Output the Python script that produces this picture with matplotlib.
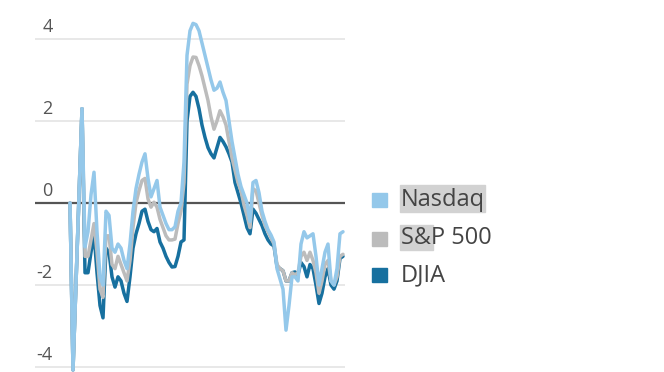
import matplotlib.pyplot as plt
import numpy as np
from matplotlib.patches import Rectangle
from matplotlib.transforms import blended_transform_factory

plt.rcParams["font.family"] = ["Open Sans", "DejaVu Sans"]

# ---------------------------------------------------------------------------
# Data (percent change)
# ---------------------------------------------------------------------------
nasdaq = [
    0.0, -4.07, -1.95, 0.18, 2.3, -1.07, -0.7, 0.2, 0.75, -0.7,
    -1.8, -2.0, -0.2, -0.3, -1.1, -1.2, -1.0, -1.1, -1.4, -1.6,
    -1.0, -0.2, 0.35, 0.7, 1.0, 1.2, 0.6, 0.15, 0.35, 0.55,
    -0.1, -0.3, -0.5, -0.65, -0.65, -0.58, -0.2, 0.0, 1.0, 3.6,
    4.2, 4.38, 4.35, 4.2, 3.9, 3.6, 3.3, 3.0, 2.75, 2.8,
    2.95, 2.7, 2.5, 2.0, 1.5, 1.1, 0.7, 0.4, 0.2, 0.0,
    -0.45, 0.5, 0.55, 0.25, -0.2, -0.45, -0.65, -0.78, -0.95, -1.6,
    -1.85, -2.1, -3.1, -2.5, -1.8, -1.8, -1.9, -1.0, -0.7, -0.85,
    -0.8, -0.75, -1.3, -2.0, -1.6, -1.2, -1.0, -1.9, -2.0, -1.6,
    -0.75, -0.7,
]
sp500 = [
    0.0, -4.07, -1.95, 0.18, 2.3, -1.3, -1.3, -0.9, -0.5, -1.2,
    -2.1, -2.3, -0.8, -0.8, -1.5, -1.6, -1.3, -1.5, -1.7, -1.9,
    -1.4, -0.6, 0.0, 0.3, 0.55, 0.6, 0.1, -0.1, 0.02, -0.1,
    -0.4, -0.6, -0.8, -0.9, -0.9, -0.88, -0.5, -0.2, 0.5, 2.9,
    3.35, 3.56, 3.55, 3.35, 3.1, 2.8, 2.5, 2.1, 1.8, 2.0,
    2.25, 2.1, 1.9, 1.5, 1.1, 0.8, 0.5, 0.3, -0.05, -0.3,
    -0.6, 0.35, 0.3, 0.0, -0.3, -0.55, -0.7, -0.85, -1.0, -1.5,
    -1.6, -1.65, -1.9, -1.9, -1.7, -1.75, -1.7, -1.3, -1.2, -1.4,
    -1.2, -1.4, -1.7, -2.2, -1.9, -1.5, -1.4, -1.9, -2.0, -1.8,
    -1.3, -1.25,
]
djia = [
    0.0, -4.07, -1.95, 0.18, 2.3, -1.7, -1.7, -1.2, -0.75, -1.7,
    -2.5, -2.8, -1.1, -1.2, -1.8, -2.05, -1.8, -1.9, -2.2, -2.4,
    -1.8, -1.1, -0.75, -0.5, -0.2, -0.15, -0.45, -0.65, -0.7, -0.62,
    -0.95, -1.1, -1.3, -1.45, -1.56, -1.55, -1.3, -0.95, -0.9, 2.0,
    2.6, 2.7, 2.6, 2.3, 1.9, 1.6, 1.35, 1.2, 1.1, 1.35,
    1.6, 1.5, 1.37, 1.2, 1.0, 0.5, 0.25, 0.0, -0.3, -0.6,
    -0.75, -0.15, -0.25, -0.4, -0.55, -0.75, -0.9, -1.0, -1.05, -1.55,
    -1.6, -1.65, -1.9, -1.9, -1.7, -1.68, -1.75, -1.45, -1.55, -1.8,
    -1.5, -1.6, -2.0, -2.45, -2.2, -1.8, -1.6, -2.0, -2.1, -1.9,
    -1.35, -1.3,
]
days = np.arange(len(nasdaq))

y_ticks = [4, 2, 0, -2, -4]
y_tick_labels = ["4", "2", "0", "-2", "-4"]

series_names = ["Nasdaq", "S&P 500", "DJIA"]
series_colors = ["#94c8ea", "#bcbcbc", "#17709f"]

# ---------------------------------------------------------------------------
# Figure
# ---------------------------------------------------------------------------
W, H = 664, 372
fig = plt.figure(figsize=(W / 100, H / 100), dpi=100)
ax = fig.add_axes([35 / W, 0, 310 / W, 1])
ax.set_xlim(-11.67, 91.67)
ax.set_ylim(-4.12, 4.95)
ax.axis("off")

for t in y_ticks:
    if t == 0:
        ax.axhline(t, color="#555555", lw=1.6, zorder=1)
    else:
        ax.axhline(t, color="#e8e8e8", lw=1.4, zorder=1)

trans = blended_transform_factory(ax.transAxes, ax.transData)
for t, lab in zip(y_ticks, y_tick_labels):
    ax.annotate(lab, xy=(0.057, t), xycoords=trans, xytext=(0, 8.6),
                textcoords="offset points", ha="right", va="center",
                fontsize=13, color="#555555")

# draw DJIA first, Nasdaq on top
for vals, col in zip([djia, sp500, nasdaq], series_colors[::-1]):
    ax.plot(days, vals, color=col, lw=2.5, solid_joinstyle="round",
            solid_capstyle="round", zorder=3, clip_on=True)

# ---------------------------------------------------------------------------
# Legend (drawn by hand so it sits like the reference)
# ---------------------------------------------------------------------------
def fx(px):
    return px / W


def fy(py):
    return 1 - py / H


# grey selection highlights seen behind the legend labels
fig.patches.append(Rectangle((fx(400), fy(212)), 85 / W, 27 / H,
                             transform=fig.transFigure, color="#d2d2d2", zorder=0))
fig.patches.append(Rectangle((fx(400), fy(250)), 33 / W, 25 / H,
                             transform=fig.transFigure, color="#d2d2d2", zorder=0))

row_centres = [200, 238.5, 275]
for name, col, yc in zip(series_names, series_colors, row_centres):
    fig.patches.append(Rectangle((fx(372), fy(yc + 7)), 15 / W, 14 / H,
                                 transform=fig.transFigure, color=col, zorder=2))
    fig.text(fx(401), fy(yc), name, ha="left", va="center",
             fontsize=17, color="#444444", zorder=3)

fig.savefig("out.png", dpi=100)
